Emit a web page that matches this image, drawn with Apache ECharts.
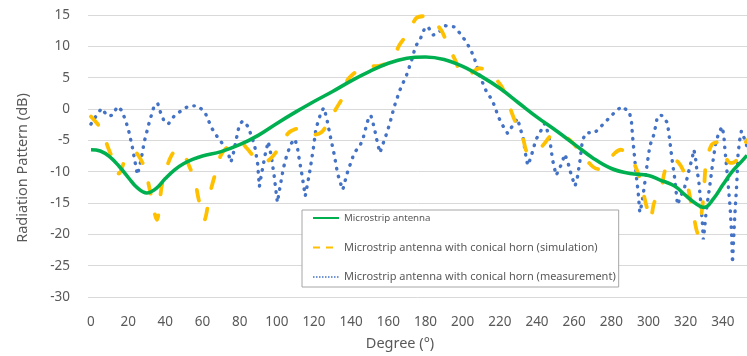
<!DOCTYPE html>
<html>
<head>
<meta charset="UTF-8">
<title>Radiation Pattern</title>
<script src="https://cdn.jsdelivr.net/npm/echarts@6/dist/echarts.min.js"></script>
<style>
  * { margin: 0; padding: 0; }
  #main { width: 747px; height: 356px; background: #fff; }
</style>
</head>
<body>
<div id="main"></div>
<script>
// tick labels of the degree axis
var degTicks = [0, 20, 40, 60, 80, 100, 120, 140, 160, 180, 200, 220, 240, 260, 280, 300, 320, 340];

// Microstrip antenna
var greenDeg = [0, 5, 10, 15, 20, 25, 30, 35, 40, 45, 50, 55, 60, 70, 80, 90, 100, 110, 120, 130, 140, 150, 160, 170, 180,
    190, 200, 210, 220, 230, 240, 250, 260, 270, 280, 290, 300, 306, 314, 320, 325, 330, 335, 340, 345, 350, 353];
var greenVal = [-6.5, -6.7, -7.6, -9.1, -10.9, -12.6, -13.4, -12.7, -11.1, -9.7, -8.7, -8.0, -7.5, -6.8, -5.7, -4.2, -2.3, -0.5, 1.2, 2.8, 4.5, 6.0, 7.3, 8.1, 8.3,
    7.9, 6.8, 5.2, 3.3, 1.0, -1.3, -3.4, -5.6, -7.8, -9.5, -10.3, -10.6, -11.3, -12.3, -13.8, -15.0, -15.7, -14.3, -12.1, -10.0, -8.4, -7.4];

// conical horn (simulation)
var simDeg = [0, 3, 6, 9, 12, 15, 19, 22, 25, 29, 32, 35.5, 38, 40, 43, 46, 49, 53, 56, 58, 61, 64, 67, 70, 75,
    80, 84, 89, 92, 96, 101, 106, 110, 113, 117, 120, 124, 127, 132, 136, 138, 142, 145, 150, 155,
    160, 163, 166, 171, 175, 179, 182, 186, 189, 192, 196, 200, 204, 209, 213, 216, 220, 222, 225, 228,
    232, 234, 236, 240, 244, 247, 250, 253, 257, 261, 266, 270, 273, 278, 282, 285, 289, 291, 295, 299,
    301, 303, 307, 309, 313, 316, 319, 321, 324, 326.5, 329.5, 331, 334, 337, 340, 344, 347, 350, 353];
var simVal = [-1.2, -2.2, -3.4, -6, -8.2, -10.3, -7.6, -6.8, -7.2, -9.5, -13.4, -17.7, -12.4, -10, -7.6, -6.5, -6.7, -9.2, -11.6, -14.5, -17.7, -13.5, -10.2, -7.3, -5.7,
    -5.3, -6.3, -8.1, -8.6, -8.1, -6.3, -3.9, -3.2, -3.1, -3.6, -4.1, -3.7, -2.5, 0.1, 2.2, 4.6, 5.8, 6.5, 6.8, 6.9,
    7.4, 8.4, 10.2, 12.3, 14.5, 14.8, 14.7, 13.5, 12.3, 10.2, 7.8, 5.4, 5.6, 6.5, 6.2, 5.4, 4.0, 3.0, 0.6, -1.8,
    -4.1, -6.5, -7.2, -6.8, -5.5, -4.4, -4.0, -4.1, -4.8, -6.0, -7.9, -9.2, -9.6, -8.4, -7.0, -6.5, -7.2, -7.9, -10.8, -15.6,
    -17.7, -15.0, -12.4, -9.7, -7.9, -8.5, -10.0, -12.1, -16.6, -19.8, -14.2, -8.5, -5.7, -5.3, -6.8, -8.6, -8.3, -6.5, -5.0];

// conical horn (measurement)
var measDeg = [0, 3, 5.7, 8.8, 11.6, 14.2, 16.5, 18.3, 20, 22.2, 24, 25, 26.9, 28.7, 31.2, 34, 35.9, 37.5, 39.3, 41.6,
    44.6, 48.8, 52.7, 57.5, 61.3, 63.3, 65.3, 68.1, 71.2, 73.9, 75.3, 76.6, 78.7, 79.8, 81.6, 84.6, 86.4, 88, 89.7, 90.6,
    92, 93.8, 95.4, 97, 98.5, 100.3, 102, 103.5, 105.5, 107.8, 109.7, 111, 112, 113.7, 115.3, 116.5, 118, 119.6, 121, 122.3,
    124, 125.3, 126.8, 128.6, 130.9, 132.7, 134, 135.5, 137, 138.4, 140.2, 141.6, 144.7, 146.5, 147.9, 149.2, 150.6, 151.9, 153.1, 154.2,
    155.5, 157.2, 159.1, 160.8, 163.2, 166.2, 169.8, 172.9, 174.5, 177.5, 179.7, 181.4, 184.1, 186.8, 190.4, 195.4, 198.5, 201.2, 203.9, 206.2,
    209.3, 212.9, 215.5, 217.3, 219.1, 221.5, 224.2, 227, 229.5, 231, 232.6, 234, 235, 236.5, 237.9, 239.4, 241.5, 244.2, 245.6, 247,
    248.3, 250.3, 253, 255, 256.8, 258.4, 260.5, 261.8, 263, 264.5, 266.5, 271, 274.7, 278.3, 281.9, 285.5, 289.6, 290.8, 291.5, 292.6,
    293.5, 294.5, 295.3, 296.5, 298, 299.3, 300.8, 303, 304.8, 307, 310.2, 311.5, 312.7, 314.2, 315.6, 317, 319.5, 321, 322, 323.5,
    324.4, 325.2, 326, 327, 328, 328.9, 329.5, 330.2, 331, 332.9, 334.8, 336, 337.5, 339.5, 340.5, 341, 342.5, 343.9, 344.7, 345.2,
    346.4, 347.5, 348.2, 349.1, 350, 351.8, 353];
var measVal = [-2.4, -1.0, 0.1, -1.1, -1.0, 0.4, -0.2, -1.6, -3.1, -6.0, -8.9, -10.5, -8.2, -5.2, -2.3, 0.5, 0.9, -0.6, -1.9, -2.4,
    -1.2, -0.2, 0.5, 0.5, -0.5, -1.9, -3.2, -4.5, -5.7, -7.1, -8.5, -7.1, -4.1, -2.6, -1.9, -2.8, -4.4, -5.7, -8.8, -12.4,
    -10, -7.2, -5.2, -7.5, -10.5, -14.9, -12, -9.5, -7.2, -5.5, -4.8, -6, -7.9, -10.8, -13.9, -12, -9.5, -6.4, -3.3, -1.9,
    -0.4, 0.2, -1.4, -4.1, -7.3, -10.3, -11.6, -12.9, -11.2, -9.7, -8.3, -7.0, -5.9, -4.6, -3.0, -1.6, -1.0, -2.4, -3.9, -5.5,
    -7.0, -5.5, -3.9, -2.3, 0.4, 3.0, 5.4, 8.1, 9.9, 11.4, 13.0, 13.1, 11.8, 12.1, 13.3, 13.1, 12.1, 11.0, 9.7, 8.2,
    5.2, 2.7, 1.6, 0.4, -1.2, -2.6, -3.9, -2.6, -1.5, -3.1, -4.7, -7.5, -9.0, -7.9, -6.5, -4.9, -3.8, -2.3, -3.5, -5.1,
    -8.0, -10.6, -8.9, -7.2, -8.7, -10.5, -12.3, -10.8, -8.5, -4.9, -3.8, -3.8, -2.7, -1.6, -0.5, 0.4, -0.4, -1.9, -4.6, -8.0,
    -10.8, -13.5, -16.5, -15.0, -11.8, -8.7, -5.8, -4.0, -1.2, -1.0, -2.2, -5.2, -8.1, -11.3, -15.3, -14.2, -12.4, -10.8, -9.5, -7.9,
    -6.5, -7.5, -9.7, -11.3, -14.5, -17.7, -20.8, -19.0, -16.4, -12.4, -8.1, -5.7, -4.1, -2.8, -4.1, -6.0, -10.8, -15.6, -19.8, -24.6,
    -17.2, -11.9, -7.1, -4.9, -3.5, -4.9, -6.0];

var names = ['Microstrip antenna',
    'Microstrip antenna with conical horn (simulation)',
    'Microstrip antenna with conical horn (measurement)'];

function zip(xs, ys) {
    var out = [];
    for (var i = 0; i < xs.length; i++) out.push([xs[i], ys[i]]);
    return out;
}

var txt = '#595959';
var font = 'Noto Sans';
var myChart = echarts.init(document.getElementById('main'));

var option = {
    animation: false,
    backgroundColor: '#fff',
    grid: { left: 88, right: 0, top: 15, bottom: 59 },
    xAxis: {
        type: 'value',
        min: -1.6,
        max: 353,
        axisLine: { show: false },
        axisTick: { show: false },
        splitLine: { show: false },
        axisLabel: {
            customValues: degTicks,
            color: txt, fontFamily: font, fontSize: 13.5, margin: 18
        }
    },
    yAxis: {
        type: 'value',
        min: -30,
        max: 15,
        interval: 5,
        axisLine: { show: false },
        axisTick: { show: false },
        splitLine: { lineStyle: { color: '#d9d9d9', width: 1 } },
        axisLabel: { color: txt, fontFamily: font, fontSize: 13.5, margin: 18 }
    },
    legend: {
        orient: 'vertical',
        left: 302,
        top: 210,
        padding: [2, 3, 4, 10],
        itemGap: 17.5,
        itemWidth: 26,
        itemHeight: 12,
        selectedMode: false,
        backgroundColor: '#fff',
        borderColor: '#a6a6a6',
        borderWidth: 1,
        itemStyle: { opacity: 0 },
        textStyle: { color: txt, fontFamily: font, fontSize: 11, lineHeight: 12 },
        data: [
            { name: names[0], textStyle: { fontSize: 9.7 }, lineStyle: { width: 2 } },
            { name: names[1], lineStyle: { width: 2, type: [7, 6], cap: 'butt' } },
            { name: names[2], lineStyle: { width: 1.6, type: [1.5, 1.5], cap: 'butt' } }
        ]
    },
    graphic: [
        {
            type: 'text', x: 23, y: 168, rotation: Math.PI / 2,
            style: { text: 'Radiation Pattern (dB)', fill: txt, font: '14.5px "Noto Sans"', textAlign: 'center', textVerticalAlign: 'middle' }
        },
        {
            type: 'text', x: 400, y: 344,
            style: { text: 'Degree (°)', fill: txt, font: '14.5px "Noto Sans"', textAlign: 'center', textVerticalAlign: 'middle' }
        }
    ],
    series: [
        {
            name: names[0], type: 'line', symbol: 'none', smooth: 0.4,
            lineStyle: { color: '#00B050', width: 3.6 },
            itemStyle: { color: '#00B050' },
            data: zip(greenDeg, greenVal), z: 3
        },
        {
            name: names[1], type: 'line', symbol: 'none', smooth: 0.3,
            lineStyle: { color: '#FFC000', width: 3.8, type: [11, 21], cap: 'round' },
            itemStyle: { color: '#FFC000' },
            data: zip(simDeg, simVal), z: 2
        },
        {
            name: names[2], type: 'line', symbol: 'none', smooth: false,
            lineStyle: { color: '#4472C4', width: 3.4, type: [0.5, 7.5], cap: 'round' },
            itemStyle: { color: '#4472C4' },
            data: zip(measDeg, measVal), z: 1
        }
    ]
};

myChart.setOption(option);
</script>
</body>
</html>
